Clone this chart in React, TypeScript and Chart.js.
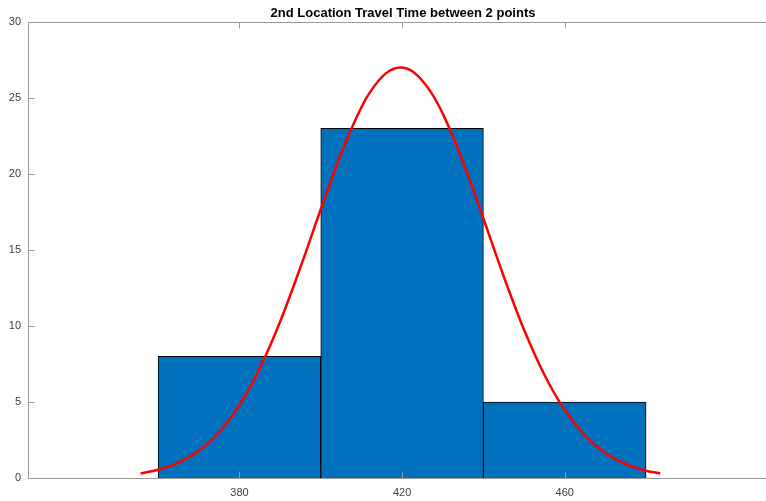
import React, { useEffect, useRef } from "react";
import { Chart, registerables } from "chart.js";

Chart.register(...registerables);

const TITLE = "2nd Location Travel Time between 2 points";
const BIN_CENTERS = [380, 420, 460];
const BIN_COUNTS = [8, 23, 5];
const X_TICKS = [380, 420, 460];
const Y_TICKS = [0, 5, 10, 15, 20, 25, 30];
const CURVE_X = [355.7, 360, 365, 370, 375, 380, 385, 390, 395, 400, 405, 410, 412, 416, 419.6, 423, 427, 430, 435, 440, 445, 450, 455, 460, 465, 470, 475, 480, 483.5];
const CURVE_Y = [0.3, 0.54, 1.01, 1.79, 3.01, 4.79, 7.22, 10.28, 13.86, 17.68, 21.35, 24.39, 25.34, 26.62, 27.0, 26.66, 25.42, 23.97, 20.79, 17.07, 13.26, 9.75, 6.79, 4.47, 2.79, 1.64, 0.92, 0.48, 0.3];

const AXIS_COLOR = "#999999";
const TEXT_COLOR = "#404040";
const FONT = "'Liberation Sans', Arial, Helvetica, sans-serif";

const framePlugin = {
  id: "frame",
  afterDraw(chart: any) {
    const ctx = chart.ctx;
    const { left, top, bottom } = chart.chartArea;
    const xs = chart.scales.x;
    const ys = chart.scales.y;
    ctx.save();
    ctx.strokeStyle = AXIS_COLOR;
    ctx.lineWidth = 1;
    ctx.beginPath();
    ctx.moveTo(left + 0.5, top + 0.5);
    ctx.lineTo(left + 0.5, bottom + 0.5);
    ctx.moveTo(left, bottom + 0.5);
    ctx.lineTo(chart.width, bottom + 0.5);
    ctx.moveTo(left, top + 0.5);
    ctx.lineTo(chart.width, top + 0.5);
    const tl = 6.5;
    for (const v of X_TICKS) {
      const px = Math.round(xs.getPixelForValue(v)) + 0.5;
      ctx.moveTo(px, bottom);
      ctx.lineTo(px, bottom - tl);
      ctx.moveTo(px, top);
      ctx.lineTo(px, top + tl);
    }
    for (const v of Y_TICKS) {
      const py = Math.round(ys.getPixelForValue(v)) + 0.5;
      ctx.moveTo(left, py);
      ctx.lineTo(left + tl, py);
    }
    ctx.stroke();
    ctx.fillStyle = "#000000";
    ctx.font = "bold 13px " + FONT;
    ctx.textAlign = "center";
    ctx.textBaseline = "alphabetic";
    ctx.fillText(TITLE, 403, 17);
    ctx.restore();
  },
};

export default function App() {
  const ref = useRef<HTMLCanvasElement | null>(null);
  useEffect(() => {
    if (!ref.current) return;
    const chart = new Chart(ref.current, {
      type: "bar",
      data: {
        datasets: [
          {
            type: "line",
            data: CURVE_X.map((x, i) => ({ x, y: CURVE_Y[i] })),
            borderColor: "#FF0000",
            borderWidth: 2.5,
            pointRadius: 0,
            cubicInterpolationMode: "monotone",
            fill: false,
            order: 1,
          } as any,
          {
            type: "bar",
            data: BIN_CENTERS.map((x, i) => ({ x, y: BIN_COUNTS[i] })),
            backgroundColor: "#0072BD",
            borderColor: "#000000",
            borderWidth: 1,
            barPercentage: 1,
            categoryPercentage: 1,
            order: 2,
          } as any,
        ],
      },
      options: {
        responsive: false,
        animation: false,
        devicePixelRatio: 1,
        layout: { padding: { top: 22, left: 0, right: 0, bottom: 0 } },
        plugins: {
          legend: { display: false },
          tooltip: { enabled: false },
          title: { display: false },
        },
        scales: {
          x: {
            type: "linear",
            min: 328,
            max: 509.5,
            offset: false,
            grid: { display: false, drawTicks: false },
            border: { display: false },
            afterBuildTicks: (s: any) => {
              s.ticks = X_TICKS.map((v) => ({ value: v }));
            },
            afterFit: (s: any) => {
              s.height = 23;
            },
            ticks: {
              color: TEXT_COLOR,
              font: { family: FONT, size: 11 },
              padding: 8,
              maxRotation: 0,
              autoSkip: false,
            },
          },
          y: {
            type: "linear",
            min: 0,
            max: 30,
            grid: { display: false, drawTicks: false },
            border: { display: false },
            afterBuildTicks: (s: any) => {
              s.ticks = Y_TICKS.map((v) => ({ value: v }));
            },
            afterFit: (s: any) => {
              s.width = 28;
            },
            ticks: {
              color: TEXT_COLOR,
              font: { family: FONT, size: 11 },
              padding: 7,
            },
          },
        },
      } as any,
      plugins: [framePlugin],
    });
    return () => chart.destroy();
  }, []);
  return (
    <div style={{ position: "absolute", left: 0, top: 0, width: 766, height: 501, background: "#ffffff" }}>
      <canvas ref={ref} width={766} height={501} />
    </div>
  );
}
